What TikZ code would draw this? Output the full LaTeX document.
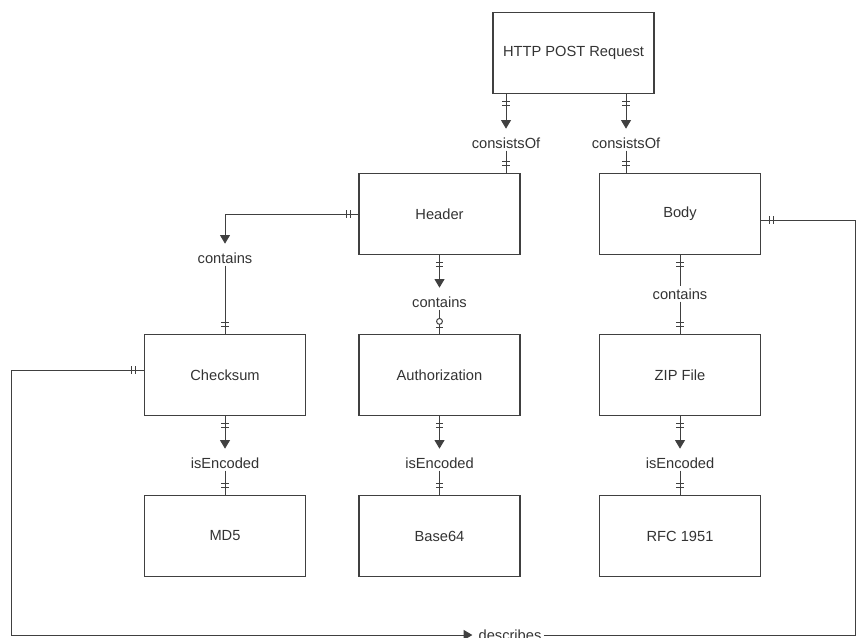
\documentclass[tikz,border=0pt]{standalone}
\usepackage{fontspec}
\setmainfont{Liberation Sans}
\usetikzlibrary{arrows.meta,decorations.markings}

\tikzset{
  entity/.style={draw=black!75, line width=0.9pt, minimum width=120.75pt, minimum height=60.5pt,
    font=\fontsize{11}{13}\selectfont, text=black!80},
  rel/.style={font=\fontsize{11}{13}\selectfont, text=black!80, inner sep=1.5pt},
  link/.style={draw=black!75, line width=0.75pt},
  tick/.style={draw=black!75, line width=0.75pt, -, shorten >=0pt, shorten <=0pt},
  toarrow/.style={-{Triangle[width=7.5pt,length=6.5pt]}, shorten >=5pt},
  onefrom/.style={postaction={decorate,decoration={markings,
      mark=at position 6pt with {\draw[tick] (0,-2.7pt) -- (0,2.7pt);},
      mark=at position 9pt with {\draw[tick] (0,-2.7pt) -- (0,2.7pt);}}}},
  oneto/.style={postaction={decorate,decoration={markings,
      mark=at position -6pt with {\draw[tick] (0,-2.7pt) -- (0,2.7pt);},
      mark=at position -9pt with {\draw[tick] (0,-2.7pt) -- (0,2.7pt);}}}},
  zeroto/.style={postaction={decorate,decoration={markings,
      mark=at position -5pt with {\draw[tick] (0,-2.7pt) -- (0,2.7pt);},
      mark=at position -9.5pt with {\draw[tick,fill=white] (0,0) circle (2.2pt);}}}}
}

\begin{document}
\begin{tikzpicture}[x=0.75pt,y=-0.75pt]
  \useasboundingbox (0,0) rectangle (856,637);

  % Entities
  \node[entity] (req) at (573.5,53) {HTTP POST Request};
  \node[entity] (header) at (439.5,214) {Header};
  \node[entity] (body) at (680,214) {Body};
  \node[entity] (checksum) at (225,375) {Checksum};
  \node[entity] (auth) at (439.5,375) {Authorization};
  \node[entity] (zip) at (680,375) {ZIP File};
  \node[entity] (md5) at (225,536) {MD5};
  \node[entity] (base64) at (439.5,536) {Base64};
  \node[entity] (rfc) at (680,536) {RFC 1951};

  % Relationship labels
  \node[rel] (cons1) at (506,143) {consistsOf};
  \node[rel] (cons2) at (626,143) {consistsOf};
  \node[rel] (cont1) at (225,258) {contains};
  \node[rel] (cont2) at (439.5,302) {contains};
  \node[rel] (cont3) at (680,294) {contains};
  \foreach \i/\x in {1/225, 2/439.5, 3/680}
    \node[rel] (enc\i) at (\x,463) {isEncoded};
  \node[rel] (desc) at (510,635) {describes};

  % Corners of the describes line
  \coordinate (cl) at (11,370);
  \coordinate (cr) at (855,220);

  % Request parts
  \draw[link,toarrow,onefrom] (req.south -| cons1) -- (cons1);
  \draw[link,oneto] (cons1) -- (header.north -| cons1);
  \draw[link,toarrow,onefrom] (req.south -| cons2) -- (cons2);
  \draw[link,oneto] (cons2) -- (body.north -| cons2);

  % Contains
  \draw[link,toarrow,onefrom] (header.west) -| (cont1);
  \draw[link,oneto] (cont1) -- (checksum);
  \draw[link,toarrow,onefrom] (header) -- (cont2);
  \draw[link,zeroto] (cont2) -- (auth);
  \draw[link,onefrom] (body) -- (cont3);
  \draw[link,oneto] (cont3) -- (zip);

  % Encodings
  \foreach \a/\b/\c in {checksum/enc1/md5, auth/enc2/base64, zip/enc3/rfc} {
    \draw[link,toarrow,onefrom] (\a) -- (\b);
    \draw[link,oneto] (\b) -- (\c);
  }

  % Describes
  \draw[link,toarrow,onefrom,shorten >=3pt] (cl -| checksum.west) -- (cl) |- (desc);
  \draw[link,oneto] (desc) -| (cr) -- (cr -| body.east);
\end{tikzpicture}
\end{document}
